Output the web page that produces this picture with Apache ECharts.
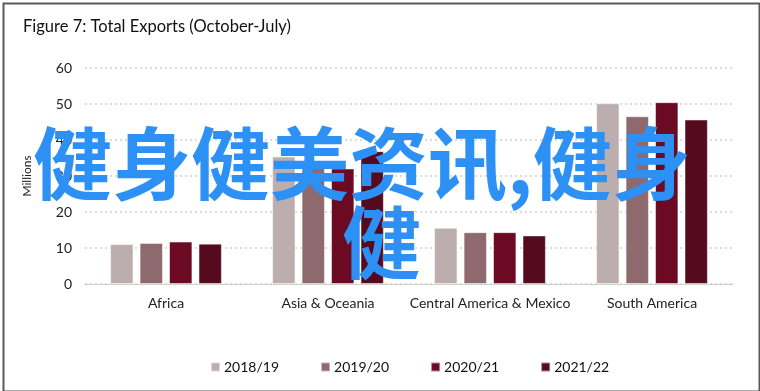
<!DOCTYPE html>
<html><head><meta charset="utf-8">
<script src="https://cdn.jsdelivr.net/npm/echarts@6/dist/echarts.min.js"></script>
<style>html,body{margin:0;padding:0;background:#fff}#c{width:760px;height:391px}</style>
</head><body><div id="c"></div>
<script>
var categories = ['Africa', 'Asia & Oceania', 'Central America & Mexico', 'South America'];
var seriesNames = ['2018/19', '2019/20', '2020/21', '2021/22'];
var v2018 = [11.1, 35.4, 15.6, 50.2];
var v2019 = [11.4, 34.2, 14.4, 46.6];
var v2020 = [11.8, 32.1, 14.4, 50.5];
var v2021 = [11.2, 36.9, 13.5, 45.7];
var yTicks = [0, 10, 20, 30, 40, 50, 60];
var colors = ['#bcaeae', '#8e6a6e', '#6b0a22', '#560a1e'];
var watermark1 = '健身健美资讯,健身';
var watermark2 = '健';

var font = 'Lato, "Open Sans", sans-serif';
var chart = echarts.init(document.getElementById('c'), null, {renderer: 'canvas'});
var values = [v2018, v2019, v2020, v2021];
chart.setOption({
  animation: false,
  title: {text: 'Figure 7: Total Exports (October-July)', left: 18, top: 13,
    textStyle: {fontFamily: font, fontSize: 16.5, fontWeight: 'normal', color: '#111'}},
  grid: {left: 85, right: 27, top: 68, bottom: 107, containLabel: false},
  legend: {top: 355, left: 205, itemWidth: 9, itemHeight: 9, itemGap: 41,
    icon: 'rect', textStyle: {fontFamily: font, fontSize: 14, color: '#111', padding: [0,0,0,-1]},
    data: seriesNames},
  xAxis: {type: 'category', data: categories,
    axisLine: {lineStyle: {color: '#d0d0d0', width: 1}}, axisTick: {show: false},
    axisLabel: {fontFamily: font, fontSize: 14, color: '#222', margin: 12, interval: 0}},
  yAxis: {type: 'value', min: 0, max: 60, interval: 10,
    name: 'Millions', nameLocation: 'middle', nameGap: 52, nameRotate: 90,
    nameTextStyle: {fontFamily: font, fontSize: 12, color: '#222'},
    axisLabel: {fontFamily: font, fontSize: 14, color: '#222', margin: 13,
      formatter: function (v) { return yTicks.indexOf(v) >= 0 ? String(v) : ''; }},
    axisLine: {show: false}, axisTick: {show: false},
    splitLine: {lineStyle: {color: '#cfcfcf', type: [2, 3], width: 1.5}}},
  series: seriesNames.map(function (n, i) {
    return {name: n, type: 'bar', data: values[i], barGap: '26%', barCategoryGap: '31%',
      itemStyle: {color: colors[i], borderColor: 'rgba(255,255,255,0.5)', borderWidth: 1}};
  }),
  graphic: [
    {type: 'rect', left: 1, top: 1, shape: {width: 756, height: 388},
      style: {fill: 'none', stroke: '#5a5a5a', lineWidth: 2}, z: 100},
    {type: 'text', left: 33, top: 124, z: 50,
      style: {text: watermark1, fontSize: 79, fontWeight: 'bold', fill: '#2d90f5',
        fontFamily: '"Noto Sans CJK SC", sans-serif'}},
    {type: 'text', left: 342, top: 203, z: 50,
      style: {text: watermark2, fontSize: 79, fontWeight: 'bold', fill: '#2d90f5',
        fontFamily: '"Noto Sans CJK SC", sans-serif'}}
  ]
});
</script></body></html>
